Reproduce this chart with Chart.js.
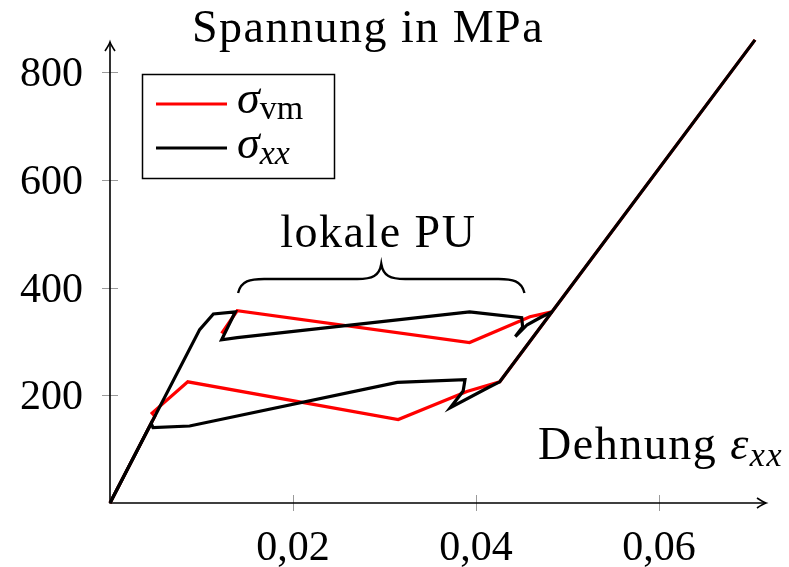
<!DOCTYPE html>
<html>
<head>
<meta charset="utf-8">
<script src="https://cdn.jsdelivr.net/npm/chart.js@4.4.0/dist/chart.umd.min.js"></script>
<style>
  html, body { margin: 0; padding: 0; background: #fff; }
  #wrap { width: 789px; height: 567px; }
</style>
</head>
<body>
<div id="wrap"><canvas id="chart" width="789" height="567"></canvas></div>
<script>
// strain eps_xx (x) and stress in MPa (y), one array pair per branch
const vmLowerStrain = [0, 0.0049, 0.0046, 0.0085, 0.0315, 0.0390, 0.0426, 0.0705];
const vmLowerStress = [0, 161, 167, 225, 155, 207, 225, 860];
const vmUpperStrain = [0.0122, 0.0139, 0.0393, 0.0459, 0.0483];
const vmUpperStress = [315, 357, 298, 346, 355];

const xxLowerStrain = [0, 0.0045, 0.0047, 0.0087, 0.0314, 0.0388, 0.0386, 0.0372, 0.0413, 0.0426, 0.0705];
const xxLowerStress = [0, 148, 140, 143, 224, 229, 208, 177, 214, 225, 860];
const xxUpperStrain = [0, 0.0098, 0.0113, 0.0137, 0.0122, 0.0139, 0.0393, 0.0450, 0.0451, 0.0443, 0.0456, 0.0470, 0.0483];
const xxUpperStress = [0, 322, 351, 355, 303, 307, 355, 344, 327, 309, 331, 344, 355];

const xTicks = [0.02, 0.04, 0.06];
const xTickLabels = ['0,02', '0,04', '0,06'];
const yTicks = [200, 400, 600, 800];
const yTickLabels = ['200', '400', '600', '800'];

const RED = '#ff0000';
const SERIF = '"Liberation Serif", "DejaVu Serif", serif';

// brace over the region of local plastic flow (strain range, stress level)
const braceFrom = 0.0140, braceTo = 0.0453, braceStress = 390;

function pts(xs, ys) {
    return xs.map((v, i) => ({ x: v, y: ys[i] }));
}

// draws a row of text pieces, each [text, font, dy]
function textRun(ctx, parts, x, y, align) {
    let total = 0;
    parts.forEach(p => { ctx.font = p[1]; total += ctx.measureText(p[0]).width; });
    let cx = x;
    if (align === 'center') cx = x - total / 2;
    if (align === 'right') cx = x - total;
    parts.forEach(p => {
        ctx.font = p[1];
        ctx.fillText(p[0], cx, y + (p[2] || 0));
        cx += ctx.measureText(p[0]).width;
    });
}

function arrowHead(ctx, x, y, dir) {
    // latex-like "to" tip; dir 'right' or 'up'
    ctx.beginPath();
    if (dir === 'right') {
        ctx.moveTo(x - 9, y - 5);
        ctx.quadraticCurveTo(x - 3, y - 1, x, y);
        ctx.quadraticCurveTo(x - 3, y + 1, x - 9, y + 5);
    } else {
        ctx.moveTo(x - 5, y + 9);
        ctx.quadraticCurveTo(x - 1, y + 3, x, y);
        ctx.quadraticCurveTo(x + 1, y + 3, x + 5, y + 9);
    }
    ctx.stroke();
}

const axesPlugin = {
    id: 'axes',
    beforeDatasetsDraw(chart) {
        const { ctx, chartArea: a, scales: { x, y } } = chart;
        ctx.save();

        // tick marks cross the axis lines
        ctx.strokeStyle = '#9a9a9a';
        ctx.lineWidth = 1;
        ctx.beginPath();
        xTicks.forEach(v => {
            const px = Math.round(x.getPixelForValue(v)) + 0.5;
            ctx.moveTo(px, a.bottom - 8);
            ctx.lineTo(px, a.bottom + 8);
        });
        yTicks.forEach(v => {
            const py = Math.round(y.getPixelForValue(v)) + 0.5;
            ctx.moveTo(a.left - 8, py);
            ctx.lineTo(a.left + 8, py);
        });
        ctx.stroke();

        ctx.strokeStyle = '#000';
        ctx.lineWidth = 1.6;
        ctx.beginPath();
        ctx.moveTo(a.left, a.top);
        ctx.lineTo(a.left, a.bottom);
        ctx.lineTo(a.right, a.bottom);
        ctx.stroke();
        arrowHead(ctx, a.right, a.bottom, 'right');
        arrowHead(ctx, a.left, a.top, 'up');

        // tick labels
        ctx.fillStyle = '#000';
        ctx.textBaseline = 'alphabetic';
        ctx.textAlign = 'left';
        const num = '42px ' + SERIF;
        xTicks.forEach((v, i) => {
            textRun(ctx, [[xTickLabels[i], num]], x.getPixelForValue(v), a.bottom + 57, 'center');
        });
        yTicks.forEach((v, i) => {
            textRun(ctx, [[yTickLabels[i], num]], a.left - 27, y.getPixelForValue(v) + 14, 'right');
        });
        ctx.restore();
    },
    afterDatasetsDraw(chart) {
        const { ctx, scales: { x, y } } = chart;
        ctx.save();
        ctx.fillStyle = '#000';
        ctx.textBaseline = 'alphabetic';
        ctx.textAlign = 'left';
        const roman = '46px ' + SERIF;
        const italic = 'italic 46px ' + SERIF;
        const sub = '34px ' + SERIF;
        const subIt = 'italic 34px ' + SERIF;

        // axis titles, slightly spaced out
        ctx.letterSpacing = '1.5px';
        textRun(ctx, [['Spannung in MPa', roman]], 368, 42, 'center');
        textRun(ctx, [['Dehnung ', roman], ['ε', italic], ['xx', subIt, 7]], 783, 459, 'right');

        // brace and its label
        const bx1 = x.getPixelForValue(braceFrom);
        const bx2 = x.getPixelForValue(braceTo);
        const by = y.getPixelForValue(braceStress);
        const cx = (bx1 + bx2) / 2;
        const top = by - 14;
        ctx.strokeStyle = '#000';
        ctx.lineWidth = 2.4;
        ctx.beginPath();
        ctx.moveTo(bx1, by);
        ctx.bezierCurveTo(bx1 + 3, top + 2, bx1 + 12, top, bx1 + 26, top);
        ctx.lineTo(cx - 24, top);
        ctx.bezierCurveTo(cx - 9, top, cx - 2, top - 3, cx, top - 15);
        ctx.bezierCurveTo(cx + 2, top - 3, cx + 9, top, cx + 24, top);
        ctx.lineTo(bx2 - 26, top);
        ctx.bezierCurveTo(bx2 - 12, top, bx2 - 3, top + 2, bx2, by);
        ctx.stroke();
        textRun(ctx, [['lokale PU', roman]], cx - 3, top - 32, 'center');
        ctx.letterSpacing = '0px';

        // legend
        ctx.lineWidth = 1.5;
        ctx.strokeRect(142.5, 74.5, 192, 104);
        ctx.lineWidth = 3;
        ctx.strokeStyle = RED;
        ctx.beginPath();
        ctx.moveTo(156, 104);
        ctx.lineTo(227, 104);
        ctx.stroke();
        ctx.strokeStyle = '#000';
        ctx.beginPath();
        ctx.moveTo(156, 148);
        ctx.lineTo(227, 148);
        ctx.stroke();
        textRun(ctx, [['σ', italic], ['vm', sub, 6]], 237, 113, 'left');
        textRun(ctx, [['σ', italic], ['xx', subIt, 6]], 237, 158, 'left');
        ctx.restore();
    }
};

const lineStyle = {
    showLine: true,
    pointRadius: 0,
    borderWidth: 3.2,
    tension: 0,
    clip: false
};

new Chart(document.getElementById('chart'), {
    type: 'scatter',
    data: {
        datasets: [
            // black first so it lies on top of the red branches
            { ...lineStyle, data: pts(xxLowerStrain, xxLowerStress), borderColor: '#000' },
            { ...lineStyle, data: pts(xxUpperStrain, xxUpperStress), borderColor: '#000' },
            { ...lineStyle, data: pts(vmLowerStrain, vmLowerStress), borderColor: RED },
            { ...lineStyle, data: pts(vmUpperStrain, vmUpperStress), borderColor: RED }
        ]
    },
    options: {
        responsive: false,
        animation: false,
        devicePixelRatio: 1,
        layout: { padding: { left: 110, right: 23, top: 42, bottom: 64 } },
        plugins: { legend: { display: false }, tooltip: { enabled: false } },
        scales: {
            x: { type: 'linear', display: false, min: 0, max: 0.0717 },
            y: { type: 'linear', display: false, min: 0, max: 856 }
        }
    },
    plugins: [axesPlugin]
});
</script>
</body>
</html>
